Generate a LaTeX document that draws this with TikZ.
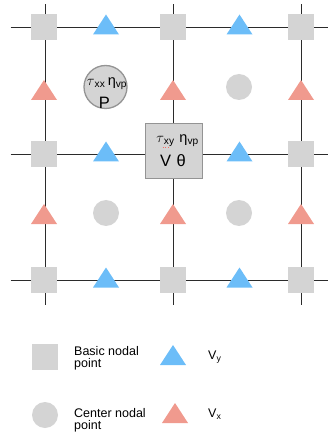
\documentclass[tikz,border=0pt]{standalone}
\usepackage{fontspec}
\setmainfont{Liberation Sans}
\definecolor{nodegray}{HTML}{D4D4D4}
\definecolor{edgegray}{HTML}{949494}
\definecolor{vyblue}{HTML}{6CBDF8}
\definecolor{vxred}{HTML}{F09A8E}
\definecolor{gridc}{HTML}{2B2B2B}
\begin{document}
\begin{tikzpicture}[x=1pt,y=-1pt,
  gridline/.style={draw=gridc, line width=0.9pt},
  basicpt/.style={rectangle, fill=nodegray, minimum size=26pt, inner sep=0pt},
  centerpt/.style={circle, fill=nodegray, minimum size=26pt, inner sep=0pt},
  bigbox/.style={rectangle, fill=nodegray, draw=edgegray, line width=1.4pt, minimum width=57pt, minimum height=55pt, inner sep=0pt},
  bigcirc/.style={circle, fill=nodegray, draw=edgegray, line width=1.3pt, minimum size=43pt, inner sep=0pt},
  vytri/.pic={\fill[vyblue] (-13,10) -- (13,10) -- (0,-10) -- cycle;},
  vxtri/.pic={\fill[vxred] (-13,10) -- (13,10) -- (0,-10) -- cycle;},
  lbl/.style={inner sep=0pt, font=\fontsize{12.5}{12}\selectfont, align=left, anchor=west},
  sym/.style={inner sep=0pt, font=\fontsize{14.5}{15}\selectfont},
  bigsym/.style={inner sep=0pt, font=\fontsize{16.5}{17}\selectfont}
]
\useasboundingbox (0,0) rectangle (329,435);
% grid endpoints
\coordinate (h1l) at (10.5,27); \coordinate (h1r) at (328,27);
\coordinate (h2l) at (10.5,154); \coordinate (h2r) at (328,154);
\coordinate (h3l) at (10.5,280); \coordinate (h3r) at (328,280);
\coordinate (v1t) at (45,4.5); \coordinate (v1b) at (45,305);
\coordinate (v2t) at (173,4.5); \coordinate (v2b) at (173,305);
\coordinate (v3t) at (301.5,4.5); \coordinate (v3b) at (301.5,305);
\draw[gridline] (h1l) -- (h1r);
\draw[gridline] (h2l) -- (h2r);
\draw[gridline] (h3l) -- (h3r);
\draw[gridline] (v1t) -- (v1b);
\draw[gridline] (v2t) -- (v2b);
\draw[gridline] (v3t) -- (v3b);
% basic nodal points
\node[basicpt] (b11) at (44,27.5) {};
\node[basicpt] (b12) at (173,27.5) {};
\node[basicpt] (b13) at (301,27.5) {};
\node[basicpt] (b21) at (44,154) {};
\node[basicpt] (b23) at (301,154) {};
\node[basicpt] (b31) at (44,280) {};
\node[basicpt] (b32) at (173,280) {};
\node[basicpt] (b33) at (301,280) {};
% center nodal points
\node[centerpt] (c12) at (239,87) {};
\node[centerpt] (c21) at (106,213) {};
\node[centerpt] (c22) at (239,213) {};
% Vy triangles
\pic (vy11) at (106,24.5) {vytri};
\pic (vy12) at (239.5,24.5) {vytri};
\pic (vy21) at (106,151.5) {vytri};
\pic (vy22) at (239.5,151.5) {vytri};
\pic (vy31) at (106,277.5) {vytri};
\pic (vy32) at (239.5,277.5) {vytri};
% Vx triangles
\pic (vx11) at (44,90) {vxtri};
\pic (vx12) at (173,90) {vxtri};
\pic (vx13) at (301,90) {vxtri};
\pic (vx21) at (44,214) {vxtri};
\pic (vx22) at (173,214) {vxtri};
\pic (vx23) at (301,214) {vxtri};
% P circle
\node[bigcirc] (pc) at (105.5,87) {};
\node[sym] (pt1) at (107,84) {$\tau$\textsubscript{xx}\,η\textsubscript{vp}};
\node[bigsym] (pt2) at (104.5,103) {P};
% central box
\node[bigbox] (cb) at (174,151) {};
\node[sym] (ct1) at (177.5,141) {$\tau$\textsubscript{xy}\,\,η\textsubscript{vp}};
\node[bigsym] (ct2) at (173,160.5) {V\,\,θ};
\coordinate (sq1) at (162.5,147.5); \coordinate (sq2) at (170,147.5);
\draw[vxred!70!red, line width=0.8pt, dotted] (sq1) -- (sq2);
% legend
\node[basicpt] (lb) at (45,357) {};
\node[lbl] (lbt) at (74,358) {Basic nodal\\point};
\pic (lvy) at (173,355) {vytri};
\node[lbl] (lvyt) at (208,357) {V\textsubscript{y}};
\node[centerpt] (lc) at (45,415) {};
\node[lbl] (lct) at (74,420.5) {Center nodal\\point};
\pic (lvx) at (175,413) {vxtri};
\node[lbl] (lvxt) at (208,414) {V\textsubscript{x}};
\end{tikzpicture}
\end{document}
